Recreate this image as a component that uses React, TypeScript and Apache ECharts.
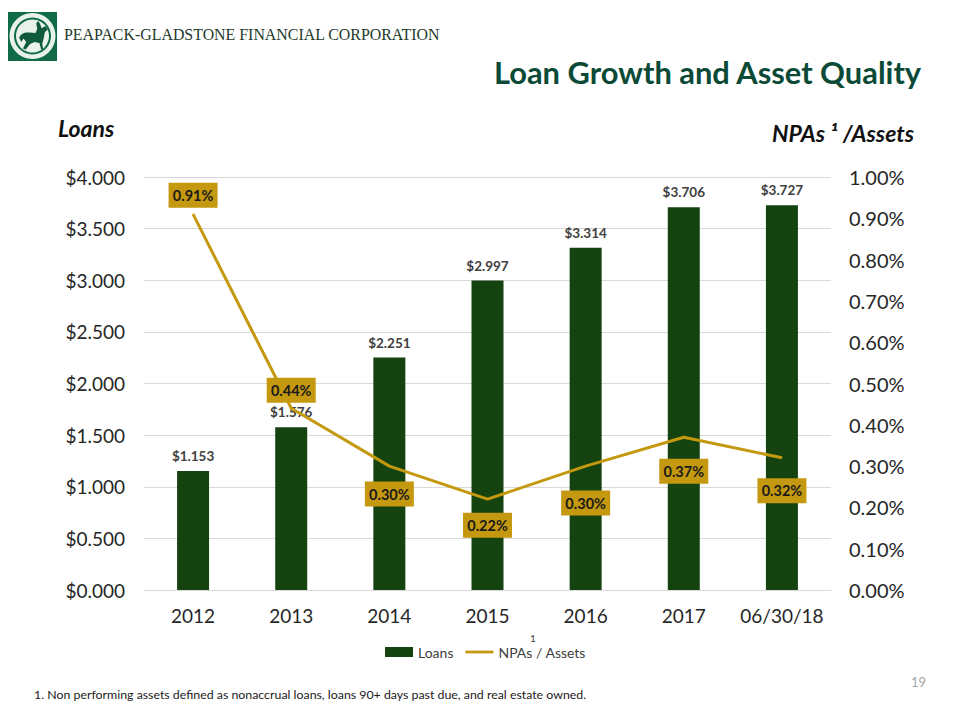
import React, { useEffect, useRef } from "react";
import * as echarts from "echarts";

const categories = ["2012", "2013", "2014", "2015", "2016", "2017", "06/30/18"];
const loans = [1.153, 1.576, 2.251, 2.997, 3.314, 3.706, 3.727];
const npas = [0.91, 0.44, 0.3, 0.22, 0.3, 0.37, 0.32];
const npaLabelOffsets = [-19, -18, 28, 26, 37, 34, 33];

const FONT = "Lato, Carlito, 'Open Sans', sans-serif";
const horse =
  "M2 30 C6 22 12 20 20 21 L32 22 L35 14 L33 4 L37 0 L40 5 L43 13 L50 9 L54 16 L49 20 L47 30 L44 42 L46 52 L42 52 L39 40 L30 38 L22 42 L14 52 L9 50 L15 38 L10 32 L6 38 Z";
echarts.graphic.registerShape("pgHorse", echarts.graphic.extendPath(horse, {}));

export default function App() {
  const ref = useRef<HTMLDivElement>(null);
  useEffect(() => {
    document.body.style.margin = "0";
    const chart = echarts.init(ref.current!, undefined, { renderer: "svg" });
    chart.setOption({
      animation: false,
      backgroundColor: "#ffffff",
      textStyle: { fontFamily: FONT },
      grid: { left: 144, right: 129, top: 177, bottom: 130, containLabel: false },
      legend: {
        left: 380,
        top: 640,
        itemWidth: 28,
        itemHeight: 10,
        itemGap: 12,
        textStyle: { fontFamily: FONT, fontSize: 14, color: "#404040" },
        data: [
          { name: "Loans", icon: "rect" },
          { name: "NPAs / Assets", icon: "path://M0 0H30V3H0Z" },
        ],
      },
      xAxis: {
        type: "category",
        data: categories,
        axisTick: { show: false },
        axisLine: { lineStyle: { color: "#d9d9d9", width: 1 } },
        axisLabel: { interval: 0, fontFamily: FONT, fontSize: 19, color: "#262626", margin: 16 },
      },
      yAxis: [
        {
          type: "value",
          min: 0,
          max: 4,
          interval: 0.5,
          axisLine: { show: false },
          axisTick: { show: false },
          splitLine: { lineStyle: { color: "#d9d9d9", width: 1 } },
          axisLabel: {
            fontFamily: FONT,
            fontSize: 19,
            color: "#262626",
            margin: 19,
            formatter: (v: number) => `$${v.toFixed(3)}`,
          },
        },
        {
          type: "value",
          min: 0,
          max: 1,
          interval: 0.1,
          position: "right",
          axisLine: { show: false },
          axisTick: { show: false },
          splitLine: { show: false },
          axisLabel: {
            fontFamily: FONT,
            fontSize: 20,
            color: "#262626",
            margin: 18,
            formatter: (v: number) => `${v.toFixed(2)}%`,
          },
        },
      ],
      series: [
        {
          name: "Loans",
          type: "bar",
          barWidth: 32,
          itemStyle: { color: "#14430f" },
          label: {
            show: true,
            position: "top",
            distance: 8,
            fontFamily: FONT,
            fontSize: 13.5,
            fontWeight: "bold",
            color: "#404040",
            formatter: (p: any) => `$${p.value.toFixed(3)}`,
          },
          data: loans,
          z: 2,
        },
        {
          name: "NPAs / Assets",
          type: "line",
          yAxisIndex: 1,
          symbol: "none",
          lineStyle: { color: "#c4980f", width: 3 },
          itemStyle: { color: "#c4980f" },
          z: 5,
          data: npas.map((v, i) => ({
            value: v,
            symbol: "circle",
            symbolSize: 1,
            label: {
              show: true,
              position: "inside",
              offset: [0, npaLabelOffsets[i]],
              width: 49,
              height: 25,
              align: "center",
              verticalAlign: "middle",
              lineHeight: 25,
              backgroundColor: "#c4980f",
              fontFamily: FONT,
              fontSize: 14.5,
              fontWeight: "bold",
              color: "#1a1a1a",
              formatter: `${v.toFixed(2)}%`,
            },
          })),
          showSymbol: true,
          showAllSymbol: true,
        },
      ],
      graphic: [
        { type: "rect", shape: { x: 8, y: 12, width: 49, height: 49 }, style: { fill: "#0f6b47" } },
        { type: "circle", shape: { cx: 32.5, cy: 36, r: 23 }, style: { fill: "#e8f1ea" } },
        { type: "circle", shape: { cx: 32.5, cy: 36, r: 18.5 }, style: { fill: "#0f6b47" } },
        { type: "circle", shape: { cx: 32.5, cy: 36, r: 16.5 }, style: { fill: "#e8f1ea" } },
        { type: "pgHorse", x: 18, y: 21, scaleX: 0.55, scaleY: 0.55, style: { fill: "#0f5a3c" } },
        {
          type: "text",
          left: 64,
          top: 26,
          style: {
            text: "PEAPACK-GLADSTONE FINANCIAL CORPORATION",
            fontFamily: "'Liberation Serif', serif",
            fontSize: 15.9,
            fill: "#1e3a2b",
          },
        },
        {
          type: "text",
          x: 494,
          y: 57,
          style: {
            text: "Loan Growth and Asset Quality",
            fontFamily: FONT,
            fontSize: 30.85,
            fontWeight: "bold",
            fill: "#0b4a36",
          },
        },
        {
          type: "text",
          x: 58,
          y: 116,
          style: { text: "Loans", fontFamily: FONT, fontSize: 23, fontWeight: "bold", fontStyle: "italic", fill: "#111111" },
        },
        {
          type: "text",
          x: 772,
          y: 121,
          style: { text: "NPAs ¹ /Assets", fontFamily: FONT, fontSize: 23, fontWeight: "bold", fontStyle: "italic", fill: "#111111" },
        },
        {
          type: "text",
          x: 530,
          y: 633,
          style: { text: "1", fontFamily: FONT, fontSize: 10, fill: "#404040" },
        },
        {
          type: "text",
          x: 34,
          y: 688,
          style: {
            text: "1. Non performing assets defined as nonaccrual loans, loans 90+ days past due, and real estate owned.",
            fontFamily: FONT,
            fontSize: 12.35,
            fill: "#1a1a1a",
          },
        },
        {
          type: "text",
          x: 911,
          y: 675,
          style: { text: "19", fontFamily: FONT, fontSize: 13, fill: "#a6a6a6" },
        },
      ],
    });
    return () => chart.dispose();
  }, []);
  return <div ref={ref} style={{ position: "absolute", left: 0, top: 0, width: 960, height: 720 }} />;
}
